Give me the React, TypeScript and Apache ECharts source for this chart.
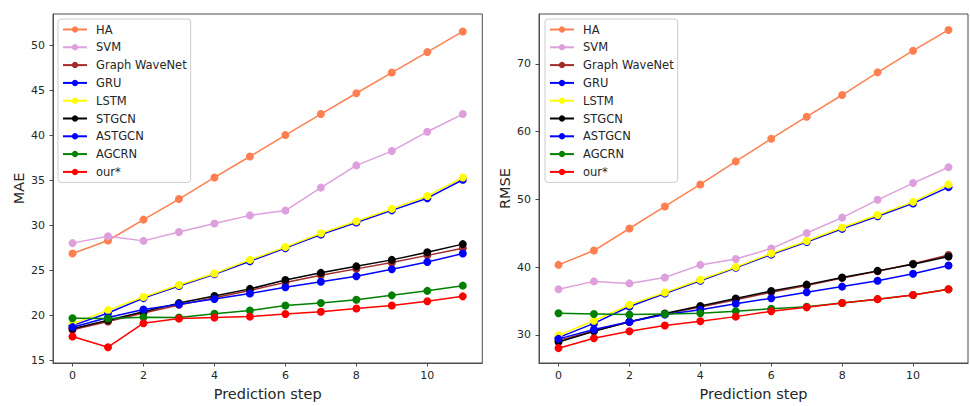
import React, { useEffect, useRef } from "react";
import * as echarts from "echarts";

const steps = [0, 1, 2, 3, 4, 5, 6, 7, 8, 9, 10, 11];
const methods = ["HA", "SVM", "Graph WaveNet", "GRU", "LSTM", "STGCN", "ASTGCN", "AGCRN", "our*"];
const colors = ["#ff7f50", "#dda0dd", "#a52a2a", "#0000ff", "#ffff00", "#000000", "#0000ff", "#008000", "#ff0000"];

const maeHA = [26.9, 28.35, 30.67, 32.95, 35.35, 37.68, 40.06, 42.39, 44.7, 47.0, 49.27, 51.56];
const maeSVM = [28.06, 28.82, 28.31, 29.29, 30.23, 31.14, 31.68, 34.22, 36.69, 38.28, 40.43, 42.39];
const maeGWN = [18.45, 19.35, 20.3, 21.2, 22.0, 22.8, 23.7, 24.5, 25.2, 25.9, 26.7, 27.5];
const maeGRU = [18.9, 20.3, 21.95, 23.3, 24.6, 26.05, 27.5, 29.0, 30.35, 31.7, 33.05, 35.1];
const maeLSTM = [19.1, 20.62, 22.07, 23.41, 24.68, 26.2, 27.62, 29.15, 30.49, 31.86, 33.3, 35.35];
const maeSTGCN = [18.55, 19.5, 20.45, 21.4, 22.18, 22.98, 23.96, 24.76, 25.48, 26.2, 27.04, 27.95];
const maeASTGCN = [18.73, 19.8, 20.69, 21.28, 21.85, 22.47, 23.16, 23.78, 24.39, 25.15, 25.96, 26.9];
const maeAGCRN = [19.71, 19.7, 19.82, 19.8, 20.22, 20.58, 21.13, 21.42, 21.78, 22.26, 22.76, 23.34];
const maeOur = [17.69, 16.5, 19.17, 19.68, 19.79, 19.9, 20.19, 20.44, 20.8, 21.13, 21.6, 22.15];

const rmseHA = [40.33, 42.45, 45.7, 48.95, 52.2, 55.6, 58.95, 62.19, 65.39, 68.73, 71.93, 74.99];
const rmseSVM = [36.73, 37.9, 37.6, 38.48, 40.33, 41.2, 42.74, 45.03, 47.3, 49.93, 52.4, 54.73];
const rmseGWN = [29.2, 30.6, 31.9, 33.1, 34.1, 35.2, 36.3, 37.3, 38.4, 39.4, 40.5, 41.8];
const rmseGRU = [29.6, 31.7, 34.2, 36.1, 38.0, 39.9, 41.85, 43.7, 45.65, 47.5, 49.4, 51.8];
const rmseLSTM = [29.95, 32.1, 34.45, 36.25, 38.14, 40.0, 42.02, 43.86, 45.85, 47.69, 49.63, 52.2];
const rmseSTGCN = [28.95, 30.55, 31.95, 33.15, 34.26, 35.38, 36.49, 37.42, 38.48, 39.45, 40.42, 41.58];
const rmseASTGCN = [29.42, 30.8, 31.93, 33.0, 33.7, 34.6, 35.42, 36.3, 37.13, 38.0, 39.02, 40.23];
const rmseAGCRN = [33.2, 33.1, 33.0, 33.1, 33.2, 33.49, 33.87, 34.15, 34.7, 35.28, 35.9, 36.75];
const rmseOur = [28.05, 29.5, 30.55, 31.4, 32.03, 32.7, 33.49, 34.07, 34.7, 35.28, 35.9, 36.73];

const xTicks = [0, 2, 4, 6, 8, 10];
const maeTicks = [15, 20, 25, 30, 35, 40, 45, 50];
const rmseTicks = [30, 40, 50, 60, 70];

const maeData = [maeHA, maeSVM, maeGWN, maeGRU, maeLSTM, maeSTGCN, maeASTGCN, maeAGCRN, maeOur];
const rmseData = [rmseHA, rmseSVM, rmseGWN, rmseGRU, rmseLSTM, rmseSTGCN, rmseASTGCN, rmseAGCRN, rmseOur];

const FONT = "DejaVu Sans";
const TEXT = "#262626";
const FRAME = "#4d4d4d";

function makeX(gridIndex: number) {
  return {
    type: "value",
    gridIndex,
    min: -0.55,
    max: 11.55,
    name: "Prediction step",
    nameLocation: "middle",
    nameGap: 23,
    nameTextStyle: { fontFamily: FONT, fontSize: 14.5, color: TEXT },
    axisLine: { show: true, onZero: false, lineStyle: { color: FRAME, width: 1 } },
    axisTick: { show: true, length: 3.5, lineStyle: { color: FRAME }, customValues: xTicks },
    axisLabel: { fontFamily: FONT, fontSize: 11, color: TEXT, margin: 7, customValues: xTicks },
    splitLine: { show: false },
  };
}

function makeY(gridIndex: number, name: string, min: number, max: number, ticks: number[]) {
  return {
    type: "value",
    gridIndex,
    min,
    max,
    name,
    nameLocation: "middle",
    nameGap: 27,
    nameTextStyle: { fontFamily: FONT, fontSize: 14.5, color: TEXT },
    axisLine: { show: true, onZero: false, lineStyle: { color: FRAME, width: 1 } },
    axisTick: { show: true, length: 3.5, lineStyle: { color: FRAME }, customValues: ticks },
    axisLabel: { fontFamily: FONT, fontSize: 11, color: TEXT, margin: 8, customValues: ticks },
    splitLine: { show: false },
  };
}

function makeLegend(left: number) {
  return {
    orient: "vertical",
    left,
    top: 19,
    data: methods,
    itemWidth: 24,
    itemHeight: 8,
    itemGap: 3.8,
    padding: [3.5, 4, 3.5, 4],
    backgroundColor: "#ffffff",
    borderColor: "#cccccc",
    borderWidth: 1,
    borderRadius: 3,
    selectedMode: false,
    textStyle: { fontFamily: FONT, fontSize: 11.5, color: TEXT, lineHeight: 14, padding: [0, 0, 0, 4] },
  };
}

export default function App() {
  const ref = useRef<HTMLDivElement>(null);
  useEffect(() => {
    document.body.style.margin = "0";
    const chart = echarts.init(ref.current!, null, { renderer: "svg" });
    const series: any[] = [];
    [maeData, rmseData].forEach((set, gi) => {
      set.forEach((vals, i) => {
        series.push({
          type: "line",
          name: methods[i],
          xAxisIndex: gi,
          yAxisIndex: gi,
          data: steps.map((s, k) => [s, vals[k]]),
          symbol: "circle",
          symbolSize: 8,
          showSymbol: true,
          color: colors[i],
          lineStyle: { color: colors[i], width: 1.5 },
          itemStyle: { color: colors[i] },
          emphasis: { disabled: true },
          z: 2 + i * 0.01,
        });
      });
    });
    chart.setOption({
      animation: false,
      backgroundColor: "#ffffff",
      grid: [
        { left: 53, top: 14, width: 429.3, height: 354.3, show: true, borderColor: FRAME, borderWidth: 1, containLabel: false },
        { left: 539, top: 14, width: 429, height: 354.3, show: true, borderColor: FRAME, borderWidth: 1, containLabel: false },
      ],
      legend: [makeLegend(58), makeLegend(545)],
      xAxis: [makeX(0), makeX(1)],
      yAxis: [
        makeY(0, "MAE", 14.75, 53.5, maeTicks),
        makeY(1, "RMSE", 25.86, 77.34, rmseTicks),
      ],
      series,
    });
    return () => chart.dispose();
  }, []);
  return <div ref={ref} style={{ width: 970, height: 406 }} />;
}
